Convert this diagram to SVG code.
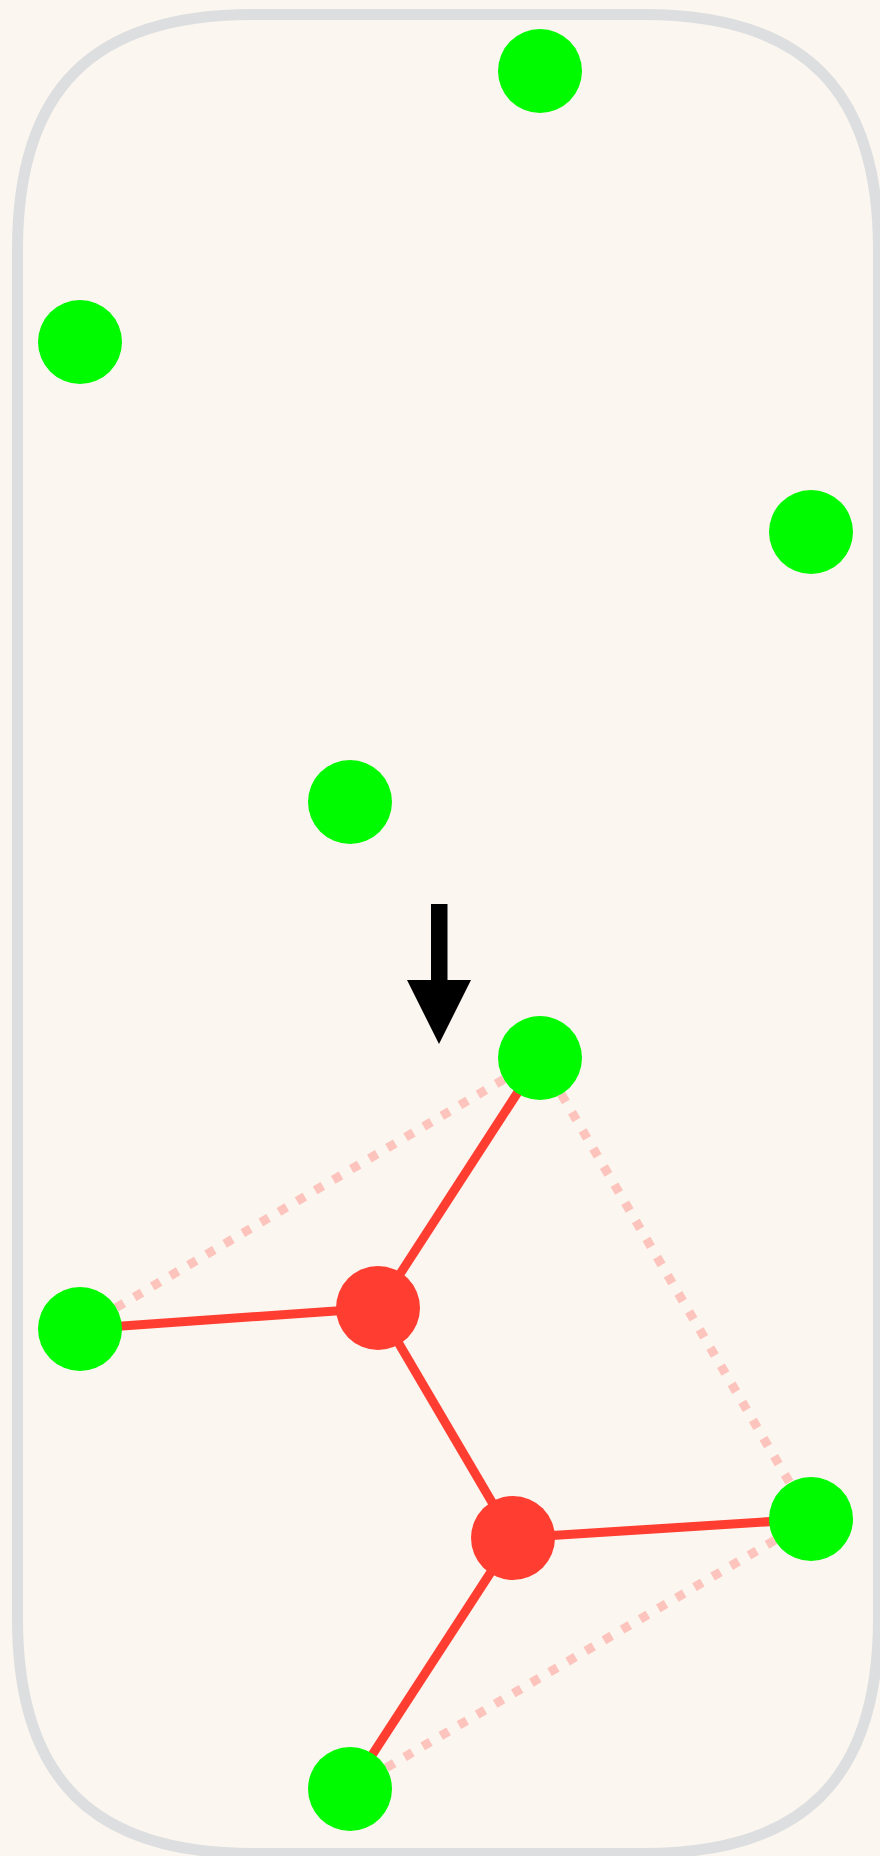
<svg xmlns="http://www.w3.org/2000/svg" width="880" height="1856" viewBox="0 0 880 1856">
  <defs>
    <style>
      .frame { fill: none; stroke: #dcdee0; stroke-width: 11; }
      .solid { stroke: #ff3d30; stroke-width: 9; fill: none; }
      .dotted { stroke: #fcc4bc; stroke-width: 9; stroke-dasharray: 9 12; fill: none; }
      .green { fill: #00fa00; }
      .red { fill: #ff3d30; }
      .arrow { fill: #000000; }
    </style>
  </defs>
  <rect x="0" y="0" width="880" height="1856" fill="#fbf6ef"/>
  <path class="frame" d="M 252.5,14.5 H 643.5 C 803.5,14.5 878.5,89.5 878.5,249.5 V 1618.5 C 878.5,1778.5 803.5,1853.5 643.5,1853.5 H 252.5 C 92.5,1853.5 17.5,1778.5 17.5,1618.5 V 249.5 C 17.5,89.5 92.5,14.5 252.5,14.5 Z"/>

  <g id="top-nodes">
    <g id="n1"><circle class="green" cx="540" cy="71" r="42"/></g>
    <g id="n2"><circle class="green" cx="80" cy="342" r="42"/></g>
    <g id="n3"><circle class="green" cx="811" cy="532" r="42"/></g>
    <g id="n4"><circle class="green" cx="350" cy="802" r="42"/></g>
  </g>

  <g id="arrow">
    <rect class="arrow" x="431" y="904" width="16.5" height="78"/>
    <polygon class="arrow" points="407,980 471,980 439,1044"/>
  </g>

  <g id="connectors">
    <line class="dotted" x1="540" y1="1058" x2="80" y2="1329"/>
    <line class="dotted" x1="540" y1="1058" x2="811" y2="1519"/>
    <line class="dotted" x1="811" y1="1519" x2="350" y2="1789"/>
    <line class="solid" x1="540" y1="1058" x2="378" y2="1308"/>
    <line class="solid" x1="80" y1="1329" x2="378" y2="1308"/>
    <line class="solid" x1="378" y1="1308" x2="513" y2="1538"/>
    <line class="solid" x1="513" y1="1538" x2="811" y2="1519"/>
    <line class="solid" x1="513" y1="1538" x2="350" y2="1789"/>
  </g>

  <g id="bottom-nodes">
    <g id="b1"><circle class="green" cx="540" cy="1058" r="42"/></g>
    <g id="b2"><circle class="green" cx="80" cy="1329" r="42"/></g>
    <g id="b3"><circle class="green" cx="811" cy="1519" r="42"/></g>
    <g id="b4"><circle class="green" cx="350" cy="1789" r="42"/></g>
    <g id="r1"><circle class="red" cx="378" cy="1308" r="42"/></g>
    <g id="r2"><circle class="red" cx="513" cy="1538" r="42"/></g>
  </g>
</svg>
